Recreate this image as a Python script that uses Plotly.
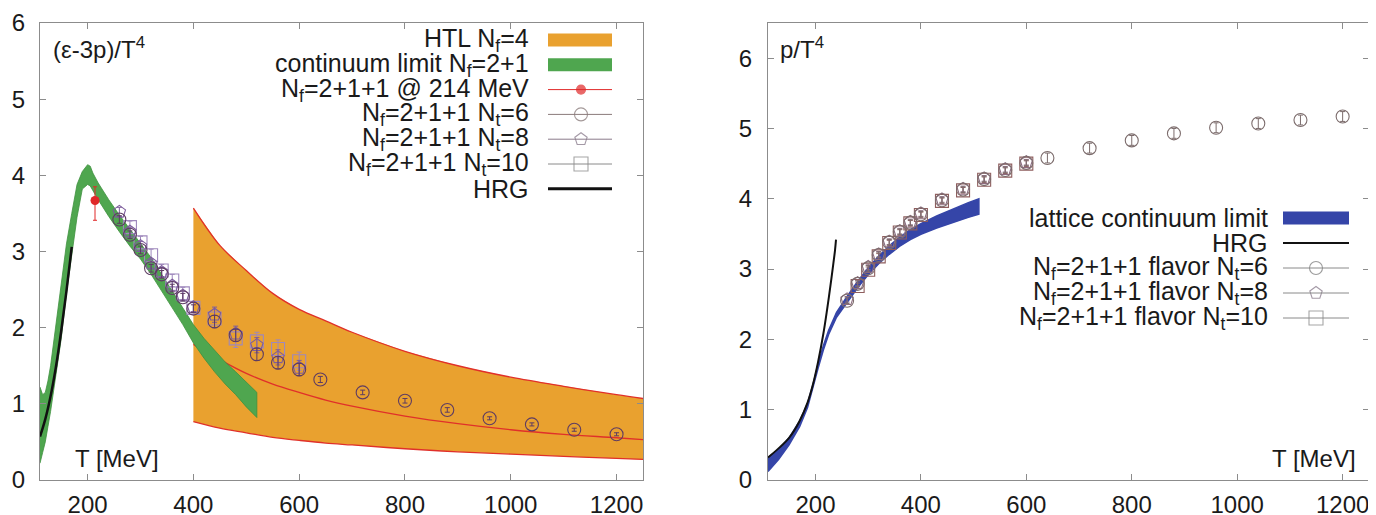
import plotly.graph_objects as go

# page body has an 8px margin, so the figure is drawn 8px lower/right
OFF = 8
W, H = 1376 - OFF, 515 - OFF

# ---------------- left panel: (e-3p)/T^4 ----------------
T_htl = [400, 450, 500, 550, 600, 650, 700, 800, 900, 1000, 1100, 1200, 1250]
htl_upper = [3.57, 3.08, 2.75, 2.45, 2.24, 2.09, 1.94, 1.69, 1.50, 1.35, 1.23, 1.12, 1.07]
htl_mid = [1.78, 1.58, 1.40, 1.26, 1.15, 1.05, 0.97, 0.84, 0.74, 0.66, 0.60, 0.555, 0.53]
htl_lower = [0.765, 0.68, 0.62, 0.56, 0.52, 0.485, 0.46, 0.41, 0.37, 0.34, 0.31, 0.285, 0.27]

T_cl = [110, 115, 120, 125, 130, 140, 150, 160, 170, 180, 190, 200, 205, 210, 220, 240,
        260, 280, 300, 320, 340, 360, 380, 400, 420, 440, 460, 480, 500, 520]
cl_upper = [1.22, 1.12, 1.15, 1.30, 1.50, 2.03, 2.60, 3.10, 3.50, 3.88, 4.05, 4.14, 4.12, 4.03, 3.90, 3.68,
            3.48, 3.29, 3.10, 2.92, 2.70, 2.48, 2.26, 2.04, 1.86, 1.70, 1.55, 1.42, 1.28, 1.15]
cl_lower = [0.22, 0.36, 0.50, 0.70, 0.90, 1.35, 1.85, 2.45, 2.93, 3.45, 3.82, 3.88, 3.86, 3.80, 3.68, 3.46,
            3.26, 3.07, 2.90, 2.70, 2.48, 2.26, 2.04, 1.80, 1.60, 1.42, 1.26, 1.12, 0.96, 0.82]

T_hrg_l = [110, 120, 130, 140, 150, 160, 170]
hrg_l = [0.57, 0.80, 1.10, 1.48, 1.95, 2.48, 3.06]

T_214 = [214]
v_214 = [3.67]
e_214_up = [0.18]
e_214_dn = [0.26]

T6 = [260, 280, 300, 320, 340, 360, 380, 400, 440, 480, 520, 560, 600, 640, 720, 800, 880, 960, 1040, 1120, 1200]
i6 = [3.42, 3.22, 3.02, 2.78, 2.70, 2.52, 2.40, 2.25, 2.08, 1.90, 1.65, 1.54, 1.45, 1.32, 1.15, 1.04, 0.92, 0.81, 0.73, 0.66, 0.60]
e_i6 = [0.05, 0.05, 0.05, 0.05, 0.05, 0.05, 0.05, 0.05, 0.08, 0.08, 0.08, 0.08, 0.08, 0.04, 0.03, 0.03, 0.03, 0.02, 0.02, 0.02, 0.02]
T8 = [260, 280, 300, 320, 340, 360, 380, 400, 440, 480, 520, 560, 600]
i8 = [3.52, 3.26, 3.07, 2.84, 2.73, 2.55, 2.42, 2.27, 2.17, 1.92, 1.77, 1.61, 1.47]
e_i8 = [0.06, 0.06, 0.06, 0.06, 0.06, 0.06, 0.06, 0.06, 0.1, 0.1, 0.1, 0.1, 0.1]
T10 = [280, 300, 320, 340, 360, 380, 400, 440, 480, 520, 560, 600]
i10 = [3.32, 3.12, 2.95, 2.75, 2.62, 2.45, 2.26, 2.12, 1.86, 1.82, 1.72, 1.56]
e_i10 = [0.08, 0.08, 0.08, 0.08, 0.08, 0.08, 0.08, 0.12, 0.12, 0.12, 0.12, 0.12]

# ---------------- right panel: p/T^4 ----------------
T_blue = [110, 130, 150, 170, 185, 195, 205, 215, 225, 240, 260, 280, 300, 320, 340, 360, 380, 400, 430, 460, 490, 510]
blue_c = [0.22, 0.36, 0.55, 0.80, 1.06, 1.32, 1.62, 1.88, 2.10, 2.35, 2.57, 2.78, 2.97, 3.13, 3.27, 3.39, 3.49, 3.57, 3.67, 3.76, 3.84, 3.89]
blue_hw = [0.10, 0.07, 0.05, 0.04, 0.03, 0.03, 0.03, 0.03, 0.03, 0.035, 0.04, 0.045, 0.05, 0.055, 0.06, 0.065, 0.07, 0.075, 0.085, 0.095, 0.105, 0.11]

T_hrg_r = [110, 130, 150, 170, 185, 195, 205, 215, 222, 230, 234, 237, 239]
hrg_r = [0.32, 0.45, 0.60, 0.84, 1.10, 1.35, 1.68, 2.08, 2.42, 2.85, 3.08, 3.26, 3.42]

p6 = [2.55, 2.79, 3.01, 3.20, 3.38, 3.53, 3.66, 3.78, 3.98, 4.13, 4.28, 4.41, 4.51, 4.58, 4.72, 4.83, 4.93, 5.01, 5.07, 5.12, 5.17]
e_p6 = [0.04] * 13 + [0.07] * 8
p8 = [2.57, 2.80, 3.03, 3.21, 3.39, 3.54, 3.67, 3.79, 3.99, 4.14, 4.29, 4.42, 4.52]
p10 = [2.76, 2.99, 3.18, 3.37, 3.52, 3.65, 3.77, 3.97, 4.12, 4.27, 4.40, 4.50]

xticks = [200, 400, 600, 800, 1000, 1200]

ORANGE = "#E9A12F"
RED = "#E0302A"
GREEN = "#4FA64F"
BLUE = "#3545A8"
C6, C8, C10 = "#5E3C62", "#7D5C9C", "#9E88BC"
R6, R8, R10 = "#7C6C6C", "#8C6C80", "#8E5E5E"

fig = go.Figure()

# HTL band
fig.add_trace(go.Scatter(x=T_htl, y=htl_lower, mode="lines", line=dict(width=0), xaxis="x", yaxis="y", hoverinfo="skip"))
fig.add_trace(go.Scatter(x=T_htl, y=htl_upper, mode="lines", line=dict(width=0), fill="tonexty",
                         fillcolor=ORANGE, xaxis="x", yaxis="y", hoverinfo="skip"))
for arr in (htl_upper, htl_mid, htl_lower):
    fig.add_trace(go.Scatter(x=T_htl, y=arr, mode="lines", line=dict(color=RED, width=1.3, shape="spline"),
                             xaxis="x", yaxis="y", hoverinfo="skip"))

# continuum limit band
fig.add_trace(go.Scatter(x=T_cl + T_cl[::-1], y=cl_upper + cl_lower[::-1], mode="lines", fill="toself",
                         fillcolor=GREEN, line=dict(color="#3F913F", width=0.8), xaxis="x", yaxis="y"))
# HRG
fig.add_trace(go.Scatter(x=T_hrg_l, y=hrg_l, mode="lines", line=dict(color="#111", width=2.5, shape="spline"),
                         xaxis="x", yaxis="y"))


def pts(x, y, e, sym, col, size, xa, ya):
    fig.add_trace(go.Scatter(x=x, y=y, mode="markers", xaxis=xa, yaxis=ya,
                             marker=dict(symbol=sym, size=size, color=col, line=dict(color=col, width=1.1)),
                             error_y=dict(type="data", array=e, color=col, thickness=1, width=2.5)))


pts(T10, i10, e_i10, "square-open", C10, 13, "x", "y")
pts(T8, i8, e_i8, "pentagon-open", C8, 13, "x", "y")
pts(T6, i6, e_i6, "circle-open", C6, 13, "x", "y")

fig.add_trace(go.Scatter(x=T_214, y=v_214, mode="markers", xaxis="x", yaxis="y",
                         marker=dict(symbol="circle", size=9, color="#E02828"),
                         error_y=dict(type="data", symmetric=False, array=e_214_up, arrayminus=e_214_dn,
                                      color="#E02828", thickness=1, width=2)))

# right panel blue band
b_up = [c + h for c, h in zip(blue_c, blue_hw)]
b_lo = [c - h for c, h in zip(blue_c, blue_hw)]
fig.add_trace(go.Scatter(x=T_blue + T_blue[::-1], y=b_up + b_lo[::-1], mode="lines", fill="toself",
                         fillcolor=BLUE, line=dict(color=BLUE, width=1.5), xaxis="x2", yaxis="y2"))
fig.add_trace(go.Scatter(x=T_hrg_r, y=hrg_r, mode="lines", line=dict(color="#111", width=2, shape="spline"),
                         xaxis="x2", yaxis="y2"))
pts(T10, p10, [0.04] * len(T10), "square-open", R10, 13, "x2", "y2")
pts(T8, p8, [0.04] * len(T8), "pentagon-open", R8, 13, "x2", "y2")
pts(T6, p6, e_p6, "circle-open", R6, 13, "x2", "y2")


# ---------------- legends (custom, gnuplot-like) ----------------
def px(x):
    return (x - OFF) / W


def py(y):
    return 1 - (y - OFF) / H


shapes = []
ann = []
LFONT = dict(size=25, color="#1a1a1a")

left_rows = [40, 64.8, 89.6, 114.4, 139.2, 164, 188.8]
left_labels = ["HTL N<sub>f</sub>=4", "continuum limit N<sub>f</sub>=2+1", "N<sub>f</sub>=2+1+1 @ 214 MeV",
               "N<sub>f</sub>=2+1+1 N<sub>t</sub>=6", "N<sub>f</sub>=2+1+1 N<sub>t</sub>=8",
               "N<sub>f</sub>=2+1+1 N<sub>t</sub>=10", "HRG"]
for yy, lab in zip(left_rows, left_labels):
    ann.append(dict(text=lab, x=px(531), y=py(yy), xref="paper", yref="paper", xanchor="right", yanchor="middle",
                    showarrow=False, font=LFONT))
sx0, sx1, smid = 548, 612, 581
for i, col in enumerate([ORANGE, GREEN]):
    yy = left_rows[i]
    shapes.append(dict(type="rect", xref="paper", yref="paper", x0=px(sx0), x1=px(sx1), y0=py(yy + 6.5), y1=py(yy - 6.5),
                       fillcolor=col, line=dict(width=0)))
for i, col in [(2, "#E02828"), (3, "#8A7A7A"), (4, "#8A7A8A"), (5, "#8A8A8A")]:
    yy = left_rows[i]
    shapes.append(dict(type="line", xref="paper", yref="paper", x0=px(sx0), x1=px(sx1), y0=py(yy), y1=py(yy),
                       line=dict(color=col, width=1)))
shapes.append(dict(type="line", xref="paper", yref="paper", x0=px(sx0), x1=px(sx1), y0=py(left_rows[6]), y1=py(left_rows[6]),
                   line=dict(color="#111", width=3)))

right_rows = [218, 243, 268, 293, 318]
right_labels = ["lattice continuum limit", "HRG", "N<sub>f</sub>=2+1+1 flavor N<sub>t</sub>=6",
                "N<sub>f</sub>=2+1+1 flavor N<sub>t</sub>=8", "N<sub>f</sub>=2+1+1 flavor N<sub>t</sub>=10"]
for yy, lab in zip(right_rows, right_labels):
    ann.append(dict(text=lab, x=px(1270), y=py(yy), xref="paper", yref="paper", xanchor="right", yanchor="middle",
                    showarrow=False, font=LFONT))
rx0, rx1, rmid = 1283, 1349, 1316
shapes.append(dict(type="rect", xref="paper", yref="paper", x0=px(rx0), x1=px(rx1), y0=py(right_rows[0] + 6.5),
                   y1=py(right_rows[0] - 6.5), fillcolor=BLUE, line=dict(width=0)))
shapes.append(dict(type="line", xref="paper", yref="paper", x0=px(rx0), x1=px(rx1), y0=py(right_rows[1]), y1=py(right_rows[1]),
                   line=dict(color="#111", width=2)))
for i in (2, 3, 4):
    yy = right_rows[i]
    shapes.append(dict(type="line", xref="paper", yref="paper", x0=px(rx0), x1=px(rx1), y0=py(yy), y1=py(yy),
                       line=dict(color="#8a8a8a", width=1)))

# legend sample markers on a screen-pixel overlay axis
leg_x = [smid, smid, smid, smid, rmid, rmid, rmid]
leg_y = [left_rows[2], left_rows[3], left_rows[4], left_rows[5], right_rows[2], right_rows[3], right_rows[4]]
leg_sym = ["circle", "circle-open", "pentagon-open", "square-open", "circle-open", "pentagon-open", "square-open"]
leg_col = ["#E02828", "#7E6E6E", "#7E6E80", "#808080", "#707070", "#7E6E80", "#808080"]
leg_size = [9, 13, 13, 14, 13, 13, 14]
fig.add_trace(go.Scatter(x=leg_x, y=leg_y, mode="markers", xaxis="x3", yaxis="y3", cliponaxis=False,
                         marker=dict(symbol=leg_sym, size=leg_size, color=leg_col,
                                     line=dict(color=leg_col, width=1.1))))

TFONT = dict(size=24, color="#1a1a1a")
ann.append(dict(text="(ε-3p)/T<sup>4</sup>", x=px(51), y=py(48), xref="paper", yref="paper", xanchor="left",
                yanchor="middle", showarrow=False, font=TFONT))
ann.append(dict(text="T [MeV]", x=px(73), y=py(458), xref="paper", yref="paper", xanchor="left",
                yanchor="middle", showarrow=False, font=TFONT))
ann.append(dict(text="p/T<sup>4</sup>", x=px(778), y=py(48), xref="paper", yref="paper", xanchor="left",
                yanchor="middle", showarrow=False, font=TFONT))
ann.append(dict(text="T [MeV]", x=px(1358), y=py(458), xref="paper", yref="paper", xanchor="right",
                yanchor="middle", showarrow=False, font=TFONT))

axis_common = dict(showgrid=False, zeroline=False, showline=True, linecolor="#8c8c8c", linewidth=1,
                   mirror="ticks", ticks="inside", ticklen=6, tickcolor="#8c8c8c",
                   tickfont=dict(size=24, color="#1a1a1a"))

fig.update_layout(
    width=W, height=H, margin=dict(l=0, r=0, t=0, b=0, autoexpand=False),
    paper_bgcolor="white", plot_bgcolor="rgba(0,0,0,0)", showlegend=False,
    font=dict(family="Liberation Sans, Arial, sans-serif", size=24, color="#1a1a1a"),
    xaxis=dict(domain=[px(40), px(643)], range=[110, 1250], tickvals=xticks, anchor="y",
               ticklabelstandoff=3, **axis_common),
    yaxis=dict(domain=[py(480), py(23)], range=[0, 6], tickvals=[0, 1, 2, 3, 4, 5, 6], anchor="x",
               ticklabelstandoff=9, **axis_common),
    xaxis2=dict(domain=[px(768), px(1369)], range=[110, 1250], tickvals=xticks, anchor="y2",
                ticklabelstandoff=3, **axis_common),
    yaxis2=dict(domain=[py(480), py(23)], range=[0, 6.5], tickvals=[0, 1, 2, 3, 4, 5, 6], anchor="x2",
                ticklabelstandoff=10, **axis_common),
    xaxis3=dict(domain=[0, 1], range=[OFF, OFF + W], visible=False, anchor="y3", fixedrange=True),
    yaxis3=dict(domain=[0, 1], range=[OFF + H, OFF], visible=False, anchor="x3", fixedrange=True),
    shapes=shapes, annotations=ann,
)

fig.write_html("out.html")
